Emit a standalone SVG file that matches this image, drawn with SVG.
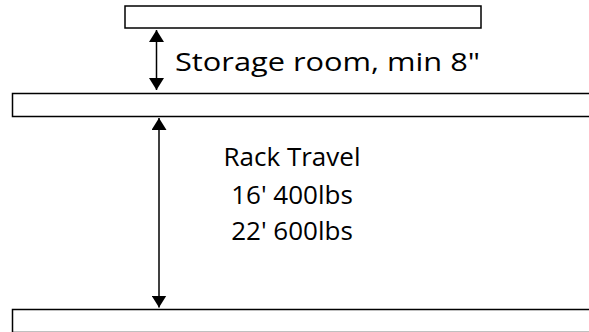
<svg xmlns="http://www.w3.org/2000/svg" width="589" height="332" viewBox="0 0 589 332">
<style>
.shelf{fill:#fff;stroke:#000;stroke-width:1.5}
.dim{stroke:#000;stroke-width:1.5;fill:none}
.lbl{font-family:"Open Sans","Liberation Sans",sans-serif;font-size:26px;fill:#000}
</style>
<defs>
<marker id="ah" viewBox="0 0 12 15" refX="12" refY="7.5" markerWidth="12" markerHeight="15" markerUnits="userSpaceOnUse" orient="auto-start-reverse">
<path d="M0,0 L12,7.5 L0,15 z" fill="#000"/>
</marker>
</defs>
<g id="shelf-top"><rect class="shelf" x="125" y="6" width="356" height="22"/></g>
<g id="shelf-mid"><rect class="shelf" x="12.5" y="93.5" width="600" height="23"/></g>
<g id="shelf-bottom"><rect class="shelf" x="12.5" y="309.5" width="600" height="23"/></g>
<g id="connectors">
<line class="dim" x1="156.5" y1="30" x2="156.5" y2="90" marker-start="url(#ah)" marker-end="url(#ah)"/>
<line class="dim" x1="159" y1="118" x2="159" y2="307.5" marker-start="url(#ah)" marker-end="url(#ah)"/>
</g>
<g id="label-storage"><text class="lbl" x="175" y="71" textLength="305" lengthAdjust="spacingAndGlyphs">Storage room, min 8"</text></g>
<g id="label-rack">
<text class="lbl" x="292" y="166" text-anchor="middle">Rack Travel</text>
<text class="lbl" x="292" y="204" text-anchor="middle">16' 400lbs</text>
<text class="lbl" x="292" y="240" text-anchor="middle">22' 600lbs</text>
</g>
</svg>
